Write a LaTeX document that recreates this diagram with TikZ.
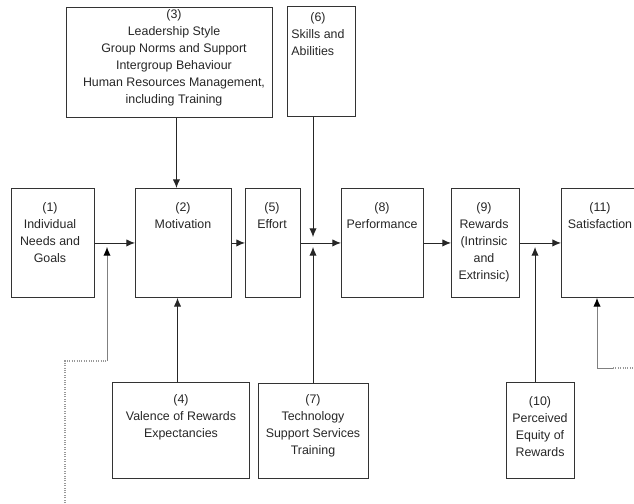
\documentclass[tikz,border=0pt]{standalone}
\usepackage{fontspec}
\setmainfont{Liberation Sans}
\usetikzlibrary{arrows.meta}
\tikzset{
	node_box/.style 2 args = {
		draw=black!80,
		line width=0.7pt,
		inner sep=0pt,
		anchor=north west,
		minimum width=#1*0.75pt,
		minimum height=#2*0.75pt
	},
	node_text/.style = {
		align=center,
		inner sep=0pt,
		text=black!85,
		font=\fontsize{9.3}{12.75}\selectfont,
		anchor=north
	},
	link/.style = {
		draw=black!85,
		line width=0.7pt
	},
	link_fb/.style = {
		draw=black!50,
		line width=0.7pt,
		-{Latex[length=6.5pt,width=5.5pt,black]}
	},
	link_dot/.style = {
		draw=black!40,
		line width=0.8pt,
		densely dotted,
		-
	},
}

\begin{document}
\begin{tikzpicture}[x=0.75pt, y=-0.75pt, ->, >={Latex[length=6.5pt,width=5.5pt]}]
\clip (0,0) rectangle (634,503);
% boxes
\node [node_box={83}{109}] (n1) at (11,188) {};
\node [node_box={96}{109}] (n2) at (135,188) {};
\node [node_box={206}{110}] (n3) at (66,7) {};
\node [node_box={137}{96}] (n4) at (112,382) {};
\node [node_box={55}{109}] (n5) at (245,188) {};
\node [node_box={68}{110}] (n6) at (287,6) {};
\node [node_box={110}{95}] (n7) at (258,383) {};
\node [node_box={82}{109}] (n8) at (341,188) {};
\node [node_box={68}{109}] (n9) at (451,188) {};
\node [node_box={68}{96}] (n10) at (506,382) {};
\node [node_box={80}{109}] (n11) at (561,188) {};
% texts
\node [node_text] (t1) at (50,202) {(1)\\Individual\\Needs and\\Goals};
\node [node_text] (t2) at (183,202) {(2)\\Motivation};
\node [node_text] (t3) at (174,9) {(3)\\Leadership Style\\Group Norms and Support\\Intergroup Behaviour\\Human Resources Management,\\including Training};
\node [node_text] (t4) at (181,394) {(4)\\Valence of Rewards\\Expectancies};
\node [node_text] (t5) at (272,202) {(5)\\Effort};
\node [node_text] (t6) at (318,9) {\begin{tabular}{@{}l@{}}\multicolumn{1}{@{}c@{}}{(6)}\\Skills and\\Abilities\end{tabular}};
\node [node_text] (t7) at (313,394) {(7)\\Technology\\Support Services\\Training};
\node [node_text] (t8) at (382,202) {(8)\\Performance};
\node [node_text] (t9) at (484,202) {(9)\\Rewards\\(Intrinsic\\and\\Extrinsic)};
\node [node_text] (t10) at (540,396) {(10)\\Perceived\\Equity of\\Rewards};
\node [node_text] (t11) at (600,202) {(11)\\Satisfaction};
% junctions
\coordinate (m1) at (107,242);
\coordinate (m5) at (313,242);
\coordinate (m9) at (535,242);
\coordinate (f1) at (107,361);
\coordinate (f1b) at (65,361);
\coordinate (f1c) at (65,503);
\coordinate (f11) at (597,368);
\coordinate (f11b) at (634,368);
% main row
\draw [link] (n1) -- (n2);
\draw [link] (n2) -- (n5);
\draw [link] (n5) -- (n8);
\draw [link] (n8) -- (n9);
\draw [link] (n9) -- (n11);
% side inputs
\draw [link] ([xshift=5.25pt]n3.south) -- ([xshift=5.25pt]n3.south |- n2.north);
\draw [link] ([xshift=-2.6pt]n4.north) -- ([xshift=-2.6pt]n4.north |- n2.south);
\draw [link, shorten >=3.75pt] (n6.south -| m5) -- (m5);
\draw [link, shorten >=3.75pt] (n7.north -| m5) -- (m5);
\draw [link, shorten >=3.75pt] (n10.north -| m9) -- (m9);
% feedback
\draw [link_dot] (f1c) -- (f1b) -- (f1);
\draw [link_fb, shorten >=3.75pt] (f1) -- (m1);
\draw [link_fb] (f11) -- (f11 |- n11.south);
\draw [link_fb, -] (f11) -- +(16,0);
\draw [link_dot] ([xshift=12pt]f11) -- (f11b);
\end{tikzpicture}
\end{document}
